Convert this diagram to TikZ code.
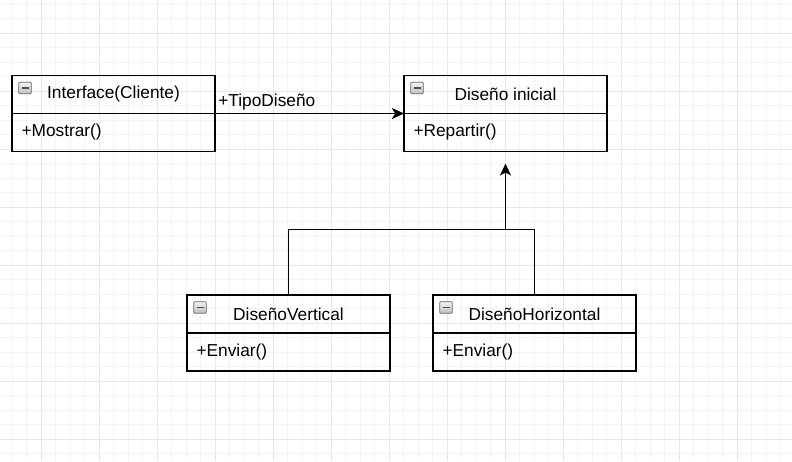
\documentclass[tikz,border=0pt]{standalone}
\usepackage{fontspec}
\setmainfont{Liberation Sans}
\usetikzlibrary{positioning,calc,arrows.meta}
\definecolor{minorgrid}{HTML}{F3F3F3}
\definecolor{majorgrid}{HTML}{E7E7E7}
\tikzset{every node/.style={font=\fontsize{17.3}{20}\selectfont},
  classhead/.style={draw, line width=1.8pt, outer sep=0pt, inner sep=0pt, minimum width=203pt, minimum height=38pt},
  classbody/.style={draw, line width=1.8pt, outer sep=0pt, inner xsep=9.5pt, inner ysep=0pt, text width=184pt, minimum height=38pt, align=left},
  minus icon/.style={draw=gray!80!black, line width=0.7pt, rounded corners=0.8pt, top color=gray!10, bottom color=gray!50,
    minimum width=12.5pt, minimum height=11.5pt, inner sep=0pt,
    path picture={\draw[line width=1.4pt, black!70] ([xshift=-3.5pt]path picture bounding box.center) -- ([xshift=3.5pt]path picture bounding box.center);}},
  link/.style={line width=1.7pt, -{Stealth[length=12pt,width=11pt,inset=3pt]}}}

\begin{document}
\begin{tikzpicture}[x=1pt,y=-1pt]
  \useasboundingbox (0,0) rectangle (792,461);
  \fill[white] (0,0) rectangle (792,461);
  % grid
  \foreach \i in {0,...,55} \draw[minorgrid, line width=0.8pt] ({-2.5+14.5*\i},0) -- ++(0,461);
  \foreach \i in {0,...,32} \draw[minorgrid, line width=0.8pt] (0,{4+14.5*\i}) -- ++(792,0);
  \foreach \i in {0,...,13} \draw[majorgrid, line width=0.8pt] ({41+58*\i},0) -- ++(0,461);
  \foreach \i in {0,...,7} \draw[majorgrid, line width=0.8pt] (0,{33+58*\i}) -- ++(792,0);

  % classes
  \node[classhead] (inter) at (113.5,94.5) {Interface(Cliente)};
  \node[classbody, below=0pt of inter] (interb) {+Mostrar()};
  \node[classhead, right=189pt of inter] (ini) {Diseño inicial};
  \node[classbody, below=0pt of ini] (inib) {+Repartir()};
  \node[classhead] (vert) at (288.5,314) {DiseñoVertical};
  \node[classbody, below=0pt of vert] (vertb) {+Enviar()};
  \node[classhead, right=43pt of vert] (horiz) {DiseñoHorizontal};
  \node[classbody, below=0pt of horiz] (horizb) {+Enviar()};
  \foreach \n in {inter,ini,vert,horiz}
    \node[minus icon] (\n-icon) at ($(\n.north west)+(13,12.5)$) {};

  % connectors
  \draw[link] (inter.south east) -- node[pos=0, anchor=south west, inner xsep=2.5pt, inner ysep=2.5pt] (tipo) {+TipoDiseño} (ini.south west);
  \coordinate (tip) at ($(inib.south)+(0,12)$);
  \coordinate (join) at ($(tip)+(0,66)$);
  \draw[link] (vert.north) |- (join) -- (tip);
  \draw[line width=1.7pt] (horiz.north) |- (join);
\end{tikzpicture}
\end{document}
